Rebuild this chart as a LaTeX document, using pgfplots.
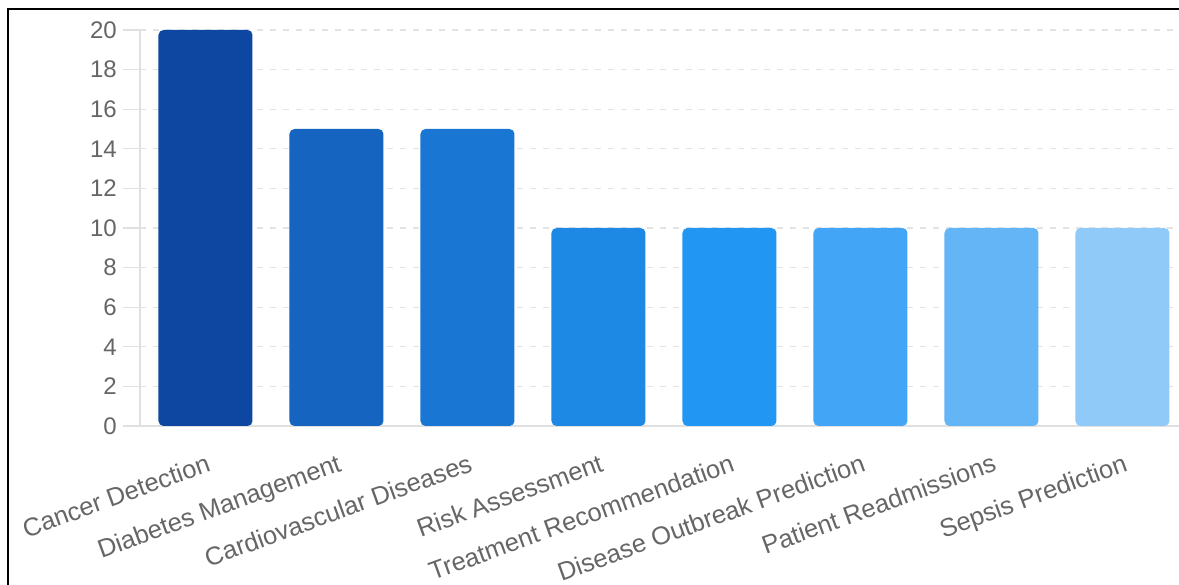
\documentclass[border=0pt]{standalone}
\usepackage{pgfplots}
\pgfplotsset{compat=1.18}
\usepackage{fontspec}
\setmainfont{Liberation Sans}
\definecolor{c1}{HTML}{0D47A1}
\definecolor{c2}{HTML}{1565C0}
\definecolor{c3}{HTML}{1976D2}
\definecolor{c4}{HTML}{1E88E5}
\definecolor{c5}{HTML}{2196F3}
\definecolor{c6}{HTML}{42A5F5}
\definecolor{c7}{HTML}{64B5F6}
\definecolor{c8}{HTML}{90CAF9}
\definecolor{txt}{HTML}{666666}
\definecolor{gridc}{HTML}{E3E3E3}
\definecolor{axc}{HTML}{E0E0E0}
\begin{document}
\begin{tikzpicture}[x=1pt,y=1pt]
\useasboundingbox (0,0) rectangle (1179,585);
\clip (0,0) rectangle (1179,585);
\fill[white] (0,0) rectangle (1179,585);
\begin{axis}[
  at={(140pt,159pt)}, anchor=south west,
  scale only axis, width=1048pt, height=396pt,
  xmin=-0.5, xmax=7.5, ymin=0, ymax=20,
  ybar, bar width=94pt,
  xtick={0,...,7},
  xticklabels={Cancer Detection,Diabetes Management,Cardiovascular Diseases,Risk Assessment,Treatment Recommendation,Disease Outbreak Prediction,Patient Readmissions,Sepsis Prediction},
  ytick={0,2,...,20},
  axis x line*=bottom, axis y line*=left,
  axis line style={draw=axc, line width=1.2pt, -},
  ymajorgrids,
  major grid style={draw=gridc, line width=1.2pt, dash pattern=on 6pt off 7pt},
  tick align=outside,
  major tick length=17pt,
  xtick style={draw=none},
  ytick style={draw=axc, line width=1.2pt},
  /pgf/number format/assume math mode=true,
  yticklabel style={font=\fontsize{24}{28}\selectfont, text=txt, anchor=east, inner sep=0pt, xshift=-6pt},
  xticklabel style={font=\fontsize{25.5}{30}\selectfont, text=txt, inner sep=0pt, yshift=-10pt, xshift=0pt, rotate=20, anchor=north east},
  clip=false,
  every axis plot/.append style={draw=none, bar shift=0pt, rounded corners=5pt},
]
\addplot[fill=c1] coordinates {(0,20)};
\addplot[fill=c2] coordinates {(1,15)};
\addplot[fill=c3] coordinates {(2,15)};
\addplot[fill=c4] coordinates {(3,10)};
\addplot[fill=c5] coordinates {(4,10)};
\addplot[fill=c6] coordinates {(5,10)};
\addplot[fill=c7] coordinates {(6,10)};
\addplot[fill=c8] coordinates {(7,10)};
\end{axis}
\draw[line width=2.5pt, black] (8,-5) -- (8,576) -- (1190,576);
\end{tikzpicture}
\end{document}
